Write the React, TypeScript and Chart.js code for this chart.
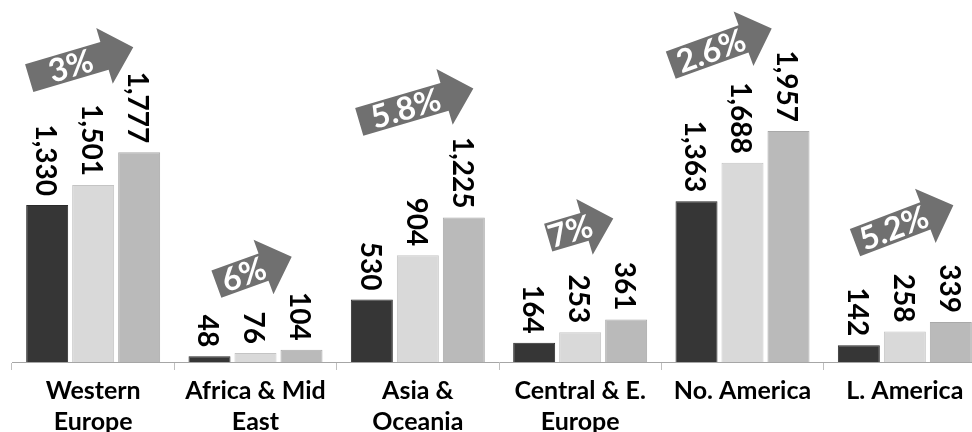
import React, { useEffect, useRef } from "react";
import { Chart, registerables } from "chart.js";

Chart.register(...registerables);

const categories: (string | string[])[] = [
  ["Western", "Europe"],
  ["Africa & Mid", "East"],
  ["Asia &", "Oceania"],
  ["Central & E.", "Europe"],
  "No. America",
  "L. America",
];
const seriesA = [1330, 48, 530, 164, 1363, 142];
const seriesB = [1501, 76, 904, 253, 1688, 258];
const seriesC = [1777, 104, 1225, 361, 1957, 339];
const growth = ["3%", "6%", "5.8%", "7%", "2.6%", "5.2%"];

// Arrow annotations in data space: [category offset, value]
const arrowTail: [number, number][] = [
  [-0.394, 2405], [-0.241, 659], [-0.361, 2035], [-0.197, 1054], [-0.442, 2515], [-0.307, 1012],
];
const arrowTip: [number, number][] = [
  [0.247, 2667], [0.223, 892], [0.342, 2318], [0.204, 1217], [0.18, 2826], [0.299, 1329],
];

const FONT = "Lato";

const overlayPlugin = {
  id: "overlay",
  afterDatasetsDraw(chart: any) {
    const ctx = chart.ctx as CanvasRenderingContext2D;
    const xs = chart.scales.x;
    const ys = chart.scales.y;
    ctx.save();
    // value labels
    ctx.font = `bold 28px ${FONT}`;
    ctx.fillStyle = "#000";
    chart.data.datasets.forEach((ds: any, di: number) => {
      const meta = chart.getDatasetMeta(di);
      meta.data.forEach((bar: any, i: number) => {
        const v = ds.data[i] as number;
        ctx.save();
        ctx.translate(bar.x - 2, bar.y - 9);
        ctx.rotate(Math.PI / 2);
        ctx.textAlign = "right";
        ctx.textBaseline = "middle";
        ctx.fillText(v.toLocaleString("en-US"), 0, 0);
        ctx.restore();
      });
    });
    // growth arrows
    growth.forEach((txt, i) => {
      const tx = xs.getPixelForValue(i + arrowTail[i][0]);
      const ty = ys.getPixelForValue(arrowTail[i][1]);
      const px = xs.getPixelForValue(i + arrowTip[i][0]);
      const py = ys.getPixelForValue(arrowTip[i][1]);
      const L = Math.hypot(px - tx, py - ty);
      const ang = Math.atan2(py - ty, px - tx);
      const headLen = 30;
      const sw = 14.5;
      const hw = 29;
      ctx.save();
      ctx.translate(tx, ty);
      ctx.rotate(ang);
      ctx.beginPath();
      ctx.moveTo(0, -sw);
      ctx.lineTo(L - headLen, -sw);
      ctx.lineTo(L - headLen, -hw);
      ctx.lineTo(L, 0);
      ctx.lineTo(L - headLen, hw);
      ctx.lineTo(L - headLen, sw);
      ctx.lineTo(0, sw);
      ctx.closePath();
      ctx.fillStyle = "#707070";
      ctx.fill();
      ctx.fillStyle = "#ffffff";
      ctx.font = `bold 32px ${FONT}`;
      ctx.textAlign = "center";
      ctx.textBaseline = "middle";
      ctx.fillText(txt, (L - headLen) / 2 + 4, 1);
      ctx.restore();
    });
    ctx.restore();
  },
};

export default function App() {
  const ref = useRef<HTMLCanvasElement | null>(null);
  useEffect(() => {
    let chart: Chart | null = null;
    let cancelled = false;
    const make = () => {
      if (cancelled || !ref.current) return;
      chart = new Chart(ref.current, {
        type: "bar",
        data: {
          labels: categories as any,
          datasets: [
            { data: seriesA, backgroundColor: "#363636", borderColor: "#2a2a2a", borderWidth: 1 },
            { data: seriesB, backgroundColor: "#d9d9d9", borderColor: "#c4c4c4", borderWidth: 1 },
            { data: seriesC, backgroundColor: "#bababa", borderColor: "#a9a9a9", borderWidth: 1 },
          ],
        },
        options: {
          responsive: false,
          animation: false,
          devicePixelRatio: 1,
          layout: { padding: { left: 12, right: 4, top: 8, bottom: 0 } },
          datasets: { bar: { categoryPercentage: 0.85, barPercentage: 0.913 } },
          plugins: { legend: { display: false }, tooltip: { enabled: false } },
          scales: {
            x: {
              grid: {
                display: true,
                drawOnChartArea: false,
                drawTicks: true,
                tickLength: 8,
                color: "#bfbfbf",
                offset: true,
              },
              border: { display: true, color: "#a6a6a6", width: 1 },
              ticks: {
                color: "#000",
                padding: 5,
                maxRotation: 0,
                autoSkip: false,
                font: { family: FONT, size: 25, weight: "bold", lineHeight: 1.24 },
              },
              afterFit: (scale: any) => {
                scale.height = 70;
              },
            },
            y: { display: false, min: 0, max: 3000 },
          },
        },
        plugins: [overlayPlugin],
      } as any);
    };
    const fontsApi = (document as any).fonts;
    if (fontsApi && fontsApi.load) {
      Promise.all([fontsApi.load(`bold 28px ${FONT}`), fontsApi.load(`bold 32px ${FONT}`)]).then(make, make);
    } else make();
    return () => {
      cancelled = true;
      if (chart) chart.destroy();
    };
  }, []);
  return (
    <div
      style={{
        position: "absolute",
        left: 0,
        top: 0,
        width: 972,
        height: 432,
        overflow: "hidden",
        background: "#fff",
      }}
    >
      <canvas ref={ref} width={990} height={432} style={{ width: 990, height: 432, display: "block" }} />
    </div>
  );
}
